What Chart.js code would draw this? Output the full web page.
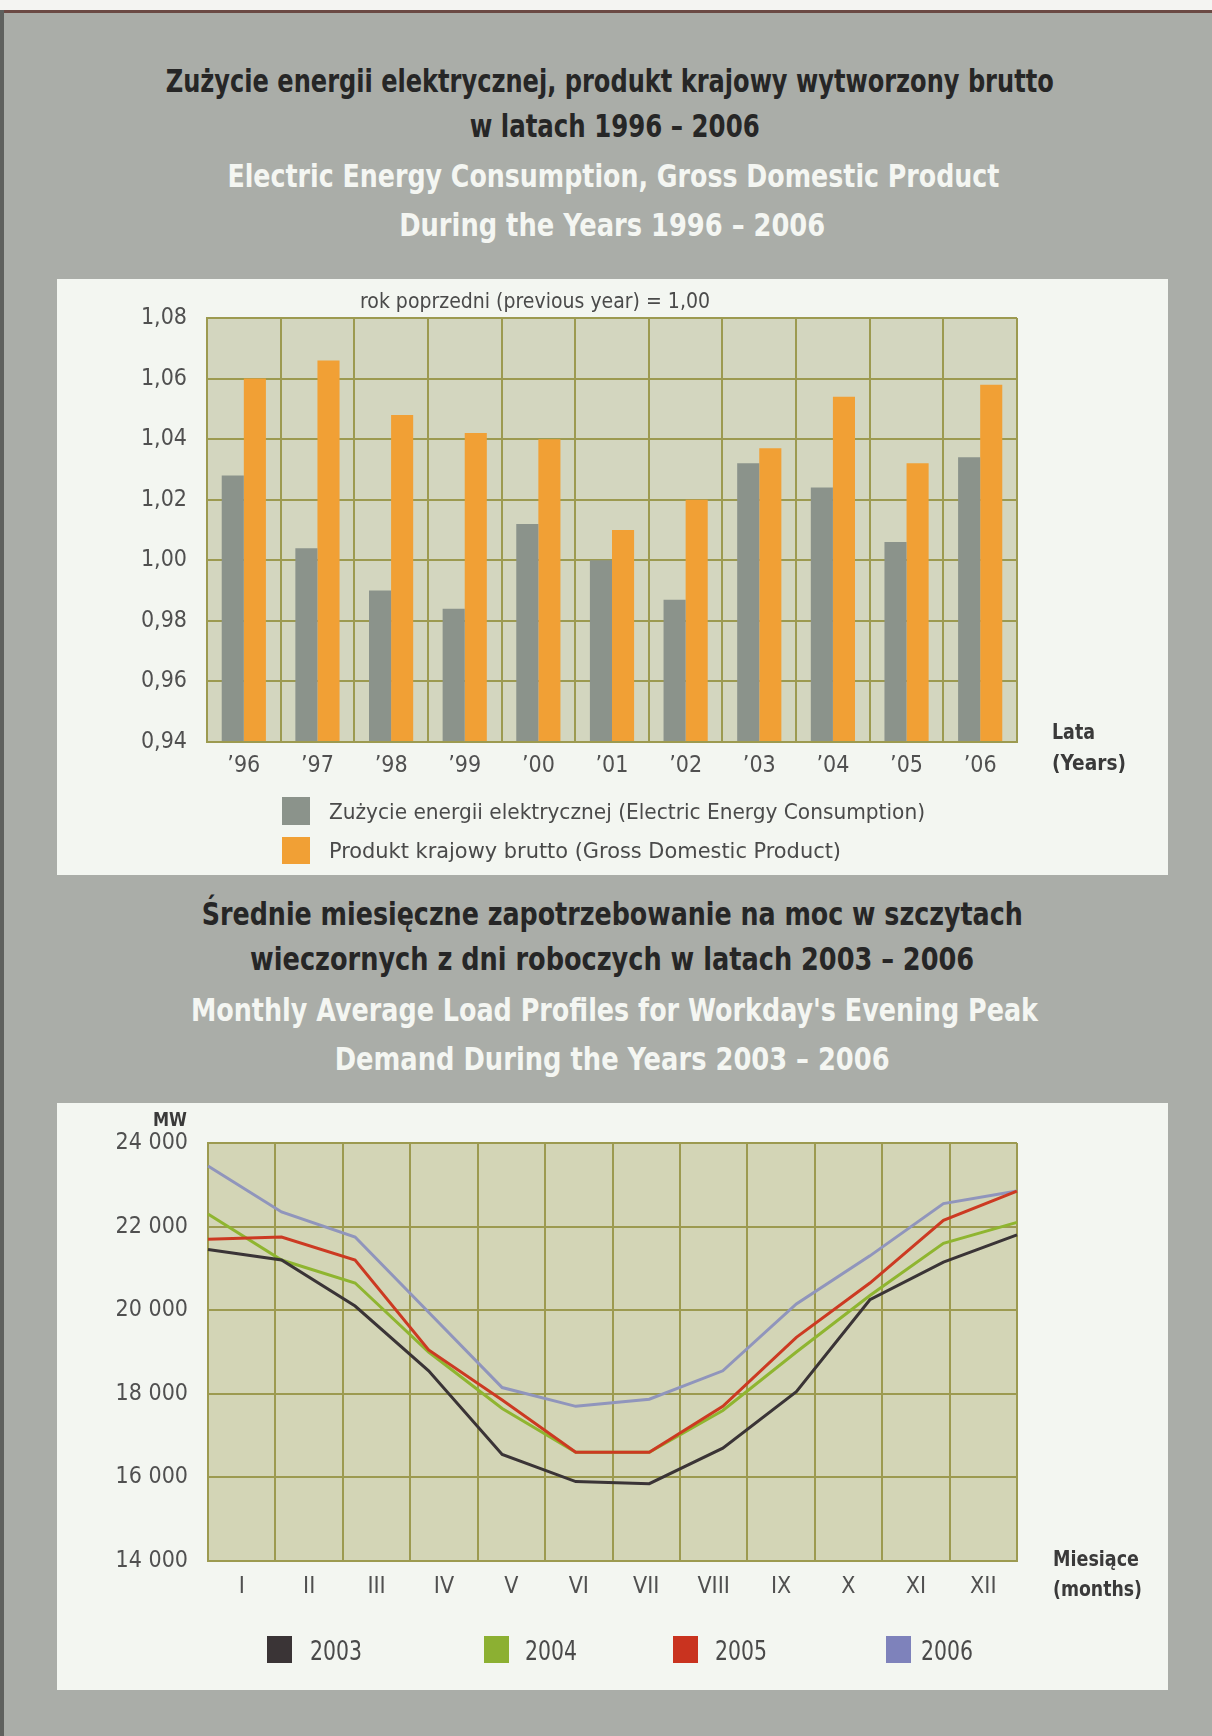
<!DOCTYPE html>
<html>
<head>
<meta charset="utf-8">
<script src="https://cdn.jsdelivr.net/npm/chart.js@4.4.1/dist/chart.umd.min.js"></script>
<style>
html,body{margin:0;padding:0;}
body{width:1212px;height:1736px;position:relative;overflow:hidden;background:#aaada8;
  font-family:"Liberation Sans Narrow","Arial Narrow","DejaVu Sans Condensed",sans-serif;}
#topband{position:absolute;left:0;top:0;width:1212px;height:10px;background:#f4f4f2;}
#topline{position:absolute;left:0;top:10px;width:1212px;height:3px;background:#6b4a44;}
#leftstrip{position:absolute;left:0;top:10px;width:4px;height:1726px;background:#5f615e;}
.t{position:absolute;white-space:nowrap;}
.title{font-weight:bold;font-size:32px;}
.dark{color:#262626;}
.light{color:#f4f6f2;}
.panel{position:absolute;left:57px;width:1111px;background:#f3f6f1;}
.panel canvas{position:absolute;left:0;top:0;}
.axcap{font-weight:bold;font-size:22px;color:#3a3a3a;}
.lbl{color:#4a4a4a;}
.box{position:absolute;}
</style>
</head>
<body>
<div id="topband"></div><div id="topline"></div><div id="leftstrip"></div>

<div class="t title dark" data-cx="610" data-cy="81" data-w="888">Zużycie energii elektrycznej, produkt krajowy wytworzony brutto</div>
<div class="t title dark" data-cx="615" data-cy="126" data-w="290">w latach 1996 – 2006</div>
<div class="t title light" data-cx="613" data-cy="176" data-w="772">Electric Energy Consumption, Gross Domestic Product</div>
<div class="t title light" data-cx="612" data-cy="225" data-w="426">During the Years 1996 – 2006</div>

<div class="panel" id="p1" style="top:279px;height:596px;"><canvas id="c1" width="1111" height="596"></canvas></div>

<div class="t title dark" data-cx="612" data-cy="914" data-w="821">Średnie miesięczne zapotrzebowanie na moc w szczytach</div>
<div class="t title dark" data-cx="612" data-cy="959" data-w="724">wieczornych z dni roboczych w latach 2003 – 2006</div>
<div class="t title light" data-cx="614" data-cy="1010" data-w="847">Monthly Average Load Profiles for Workday's Evening Peak</div>
<div class="t title light" data-cx="612" data-cy="1059" data-w="555">Demand During the Years 2003 – 2006</div>

<div class="panel" id="p2" style="top:1103px;height:587px;"><canvas id="c2" width="1111" height="587"></canvas></div>

<div class="t lbl" style="font-size:22px;" data-cx="535" data-cy="300" data-w="350">rok poprzedni (previous year) = 1,00</div>
<div class="t axcap" data-x="1052" data-cy="731" data-w="43">Lata</div>
<div class="t axcap" data-x="1052" data-cy="762" data-w="74">(Years)</div>
<div class="t axcap" style="font-size:19px;" data-rx="187" data-cy="1119" data-w="34">MW</div>
<div class="t axcap" data-x="1053" data-cy="1558" data-w="86">Miesiące</div>
<div class="t axcap" data-x="1053" data-cy="1588" data-w="89">(months)</div>

<div id="legend1"></div>
<div id="legend2"></div>

<script>
// ---------- data ----------
const years = ["’96","’97","’98","’99","’00","’01","’02","’03","’04","’05","’06"];
const consumption = [1.028,1.004,0.990,0.984,1.012,1.000,0.987,1.032,1.024,1.006,1.034];
const gdp = [1.060,1.066,1.048,1.042,1.040,1.010,1.020,1.037,1.054,1.032,1.058];
const ratioTicks = [0.94,0.96,0.98,1.00,1.02,1.04,1.06,1.08];
const barNames = ["Zużycie energii elektrycznej (Electric Energy Consumption)","Produkt krajowy brutto (Gross Domestic Product)"];

const months = ["I","II","III","IV","V","VI","VII","VIII","IX","X","XI","XII"];
const load2003 = [21450,21200,20100,18550,16550,15900,15850,16700,18050,20250,21150,21800];
const load2004 = [22300,21200,20650,19000,17650,16600,16600,17600,19000,20350,21600,22100];
const load2005 = [21700,21750,21200,19050,17850,16600,16600,17700,19350,20650,22150,22850];
const load2006 = [23450,22350,21750,19950,18150,17700,17870,18550,20150,21300,22550,22850];
const loadYears = ["2003","2004","2005","2006"];
const loadTicks = [14000,16000,18000,20000,22000,24000];

// ---------- styles ----------
const GRID = '#9c9a50';
const PLOTBG1 = '#d3d6bf';
const PLOTBG2 = '#d3d5b6';
const TICKCOL = '#505050';
const FONT = '"Liberation Sans Narrow","Arial Narrow","DejaVu Sans Condensed",sans-serif';
const barColors = ['#8b938b','#f1a035'];
const lineColors = ['#3a3436','#8fb530','#cc3a22','#9095bc'];
const legendLineColors = ['#3a3436','#8cb032','#c9331f','#7e82bb'];
const lineOrder = [0,3,1,4];

const plotBg = {
  id:'plotBg',
  beforeDraw(chart, args, opts){
    const {ctx, chartArea:a} = chart;
    ctx.save(); ctx.fillStyle = opts.color; ctx.fillRect(a.left, a.top, a.right-a.left, a.bottom-a.top); ctx.restore();
  }
};

// ---------- chart 1 ----------
new Chart(document.getElementById('c1'), {
  type:'bar',
  data:{
    labels: years,
    datasets:[
      {label:barNames[0], data:consumption, backgroundColor:barColors[0], base:0.94, categoryPercentage:0.6, barPercentage:1.0, borderWidth:0},
      {label:barNames[1], data:gdp, backgroundColor:barColors[1], base:0.94, categoryPercentage:0.6, barPercentage:1.0, borderWidth:0}
    ]
  },
  options:{
    responsive:false, animation:false, devicePixelRatio:1,
    layout:{padding:{left:0, top:39, right:151, bottom:93}},
    plugins:{legend:{display:false}, tooltip:{enabled:false}, plotBg:{color:PLOTBG1}},
    scales:{
      x:{
        grid:{color:GRID, lineWidth:2, drawTicks:false, offset:true},
        border:{color:GRID, width:2},
        ticks:{color:TICKCOL, font:{family:FONT, size:23}, padding:10},
        afterFit(s){ s.height = 40; }
      },
      y:{
        min:0.94, max:1.08,
        afterBuildTicks(s){ s.ticks = ratioTicks.map(v=>({value:v})); },
        grid:{color:GRID, lineWidth:2, drawTicks:false},
        border:{color:GRID, width:2},
        ticks:{color:TICKCOL, font:{family:FONT, size:23}, padding:20,
               callback:v=>Number(v).toFixed(2).replace('.',',')},
        afterFit(s){ s.width = 150; }
      }
    }
  },
  plugins:[plotBg]
});

// ---------- chart 2 ----------
const loads = [load2003, load2004, load2005, load2006];
new Chart(document.getElementById('c2'), {
  type:'line',
  data:{
    labels: months,
    datasets: loads.map((d,i)=>({
      label: loadYears[i], data:d, xAxisID:'x2', borderColor:lineColors[i], backgroundColor:lineColors[i],
      borderWidth:3, pointRadius:0, tension:0, fill:false, order:lineOrder[i]
    }))
  },
  options:{
    responsive:false, animation:false, devicePixelRatio:1,
    layout:{padding:{left:0, top:40, right:151, bottom:89}},
    plugins:{legend:{display:false}, tooltip:{enabled:false}, plotBg:{color:PLOTBG2}},
    scales:{
      x:{
        type:'category', labels:months, offset:true,
        grid:{color:GRID, lineWidth:2, drawTicks:false, offset:true},
        border:{color:GRID, width:2},
        ticks:{color:TICKCOL, font:{family:FONT, size:23}, padding:12},
        afterFit(s){ s.height = 40; }
      },
      x2:{type:'category', labels:months, offset:false, display:false},
      y:{
        min:14000, max:24000,
        afterBuildTicks(s){ s.ticks = loadTicks.map(v=>({value:v})); },
        grid:{color:GRID, lineWidth:2, drawTicks:false},
        border:{color:GRID, width:2},
        ticks:{color:TICKCOL, font:{family:FONT, size:23}, padding:20,
               callback:v=>{const s=String(Math.round(v)); return s.slice(0,s.length-3)+' '+s.slice(-3);}},
        afterFit(s){ s.width = 151; }
      }
    }
  },
  plugins:[plotBg]
});

// ---------- legends (HTML) ----------
const lg1 = document.getElementById('legend1');
const lg1Rows = [{y:797,h:28},{y:837,h:27}];
barNames.forEach((n,i)=>{
  const b = document.createElement('div'); b.className='box';
  b.style.cssText = `left:282px;top:${lg1Rows[i].y}px;width:28px;height:${lg1Rows[i].h}px;background:${barColors[i]};`;
  lg1.appendChild(b);
  const t = document.createElement('div'); t.className='t lbl'; t.style.fontSize='22px';
  t.textContent = n; t.dataset.x = 329; t.dataset.cy = lg1Rows[i].y + lg1Rows[i].h/2; t.dataset.w = i===0?596:512;
  lg1.appendChild(t);
});
const lg2 = document.getElementById('legend2');
const lg2Box = [267,484,673,886], lg2Txt = [310,525,715,921];
loadYears.forEach((n,i)=>{
  const b = document.createElement('div'); b.className='box';
  b.style.cssText = `left:${lg2Box[i]}px;top:1636px;width:25px;height:27px;background:${legendLineColors[i]};`;
  lg2.appendChild(b);
  const t = document.createElement('div'); t.className='t lbl'; t.style.fontSize='27px';
  t.textContent = n; t.dataset.x = lg2Txt[i]; t.dataset.cy = 1650; t.dataset.w = 52;
  lg2.appendChild(t);
});

// ---------- text placement ----------
function place(){
  document.querySelectorAll('.t').forEach(el=>{
    const r = el.getBoundingClientRect();
    const nat = r.width, h = r.height;
    const w = el.dataset.w ? +el.dataset.w : nat;
    const sx = w/nat;
    el.style.top = (+el.dataset.cy - h/2) + 'px';
    if (el.dataset.cx !== undefined){ el.style.left = (+el.dataset.cx - nat/2)+'px'; el.style.transformOrigin='center center'; }
    else if (el.dataset.rx !== undefined){ el.style.left = (+el.dataset.rx - nat)+'px'; el.style.transformOrigin='right center'; }
    else { el.style.left = (+el.dataset.x)+'px'; el.style.transformOrigin='left center'; }
    el.style.transform = `scaleX(${sx})`;
  });
}
place();
</script>
</body>
</html>
